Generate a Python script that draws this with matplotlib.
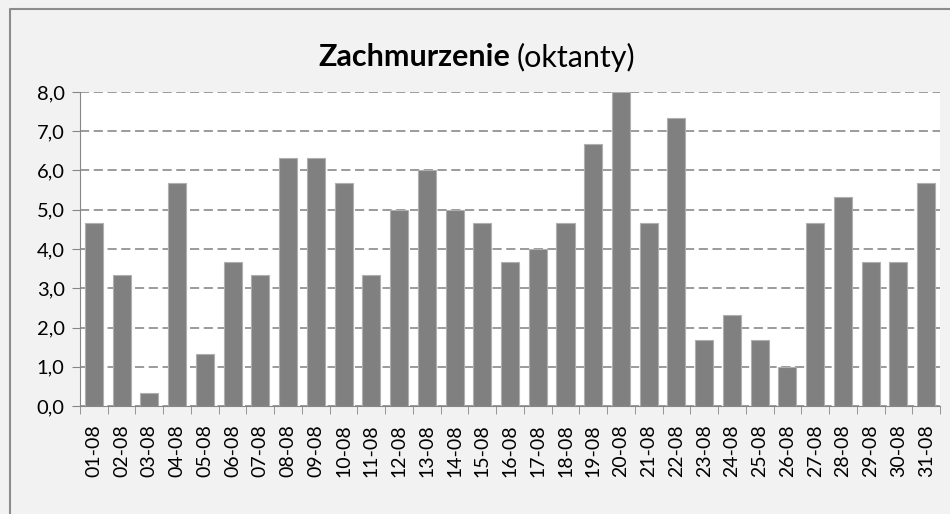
import numpy as np
import matplotlib.pyplot as plt
from matplotlib.ticker import MultipleLocator, FuncFormatter

# dni sierpnia
dni = ['%02d-08' % d for d in range(1, 32)]

# srednie zachmurzenie (oktanty)
zachmurzenie = [4.67, 3.33, 0.33, 5.67, 1.33, 3.67, 3.33, 6.33, 6.33, 5.67,
                3.33, 5.0, 6.0, 5.0, 4.67, 3.67, 4.0, 4.67, 6.67, 8.0,
                4.67, 7.33, 1.67, 2.33, 1.67, 1.0, 4.67, 5.33, 3.67, 3.67,
                5.67]

plt.rcParams['font.family'] = ['Lato', 'DejaVu Sans']

fig = plt.figure(figsize=(9.5, 5.14), dpi=100, facecolor='#f2f2f2')
ax = fig.add_axes([80 / 950, 108 / 514, 860 / 950, 314 / 514])
ax.set_facecolor('white')

x = np.arange(len(dni))
ax.bar(x, zachmurzenie, width=0.65, color='#808080', edgecolor='#b0b0b0',
       linewidth=0.8, zorder=3)

ax.set_xlim(-0.5, len(dni) - 0.5)
ax.set_ylim(0, 8)
ax.yaxis.set_major_locator(MultipleLocator(1))
ax.yaxis.set_major_formatter(FuncFormatter(lambda v, p: ('%.1f' % v).replace('.', ',')))
ax.grid(axis='y', color='#808080', linestyle=(0, (6, 3)), linewidth=1.1, zorder=1)

ax.set_xticks(x)
ax.set_xticklabels(dni, rotation=90)
ax.set_xticks(np.arange(-0.5, len(dni)), minor=True)
ax.tick_params(axis='x', which='major', length=0, pad=13, labelsize=14)
ax.tick_params(axis='x', which='minor', length=6, color='#868686', direction='out')
ax.tick_params(axis='y', length=6, color='#868686', labelsize=14.5, pad=5)

for s in ['top', 'right']:
    ax.spines[s].set_visible(False)
for s in ['left', 'bottom']:
    ax.spines[s].set_color('#868686')

# tytul: pogrubiona czesc + zwykla czesc
fig.text(0.537, 0.889, 'Zachmurzenie', ha='right', va='center',
         fontsize=22, fontweight='bold')
fig.text(0.5435, 0.889, '(oktanty)', ha='left', va='center', fontsize=22)

# ramka wykresu
fig.add_artist(plt.Line2D([9.5 / 950, 9.5 / 950, 1], [0, 1 - 8.5 / 514, 1 - 8.5 / 514],
                          transform=fig.transFigure, color='#8c8c8c', linewidth=1.5))

fig.savefig('out.png', dpi=100, facecolor=fig.get_facecolor())
